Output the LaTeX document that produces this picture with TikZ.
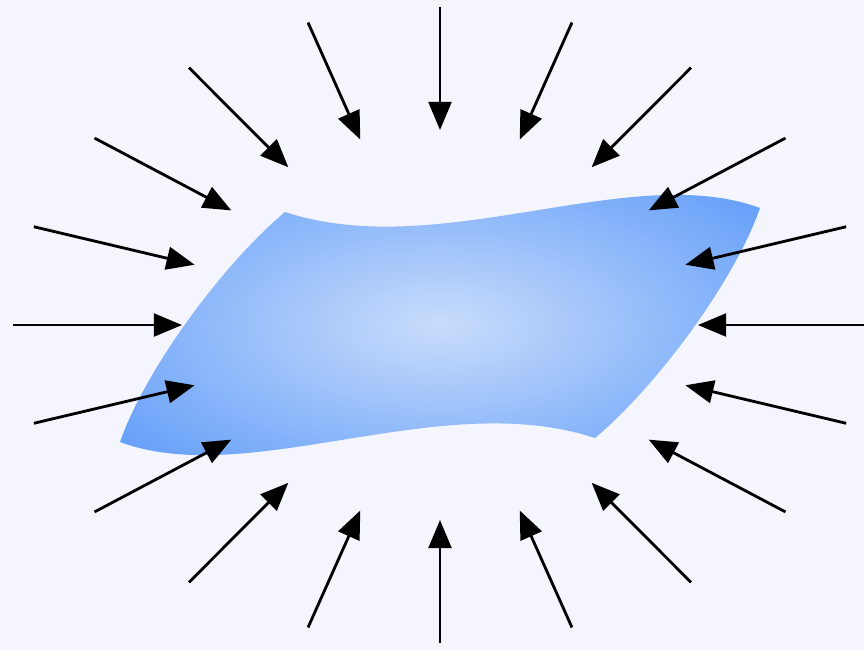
\documentclass[tikz,border=0pt]{standalone}
\usetikzlibrary{arrows.meta}

\begin{document}
\begin{tikzpicture}[
  x=0.02cm, y=0.02cm,
  inarrow/.style={line width=1.6pt, -{Triangle[length=16pt, width=13pt]}},
]

%% ── Colours ──────────────────────────────────────────────────────────────────
\definecolor{pageFill}{HTML}{F4F5FD}
\definecolor{sheetCentre}{HTML}{C8DCFB}
\definecolor{sheetEdge}{HTML}{68A1F9}

%% ── Page (fixes the margins) ────────────────────────────────────────────────
\fill[pageFill] (-440,-325) rectangle (424,325);
\useasboundingbox (-440,-325) rectangle (424,325);

%% ── Curved sheet, point-symmetric about the origin ─────────────────────────
\begin{scope}
  \clip (-155,113) .. controls (0,62) and (190,165) .. (320,117)
        .. controls (295,45) and (218,-60) .. (155,-113)
        .. controls (0,-62) and (-190,-165) .. (-320,-117)
        .. controls (-295,-45) and (-218,60) .. cycle;
  \shade[inner color=sheetCentre, outer color=sheetEdge] (-400,-190) rectangle (400,190);
\end{scope}

%% ── Inward arrows (outer ellipse -> inner ellipse, every 18 degrees) ────────
\foreach \a in {0,18,...,342} {
  \coordinate (out\a) at ({427*cos(\a)}, {318*sin(\a)});
  \coordinate (in\a)  at ({258*cos(\a)}, {195*sin(\a)});
  \draw[inarrow] (out\a) -- (in\a);
}

\end{tikzpicture}
\end{document}
